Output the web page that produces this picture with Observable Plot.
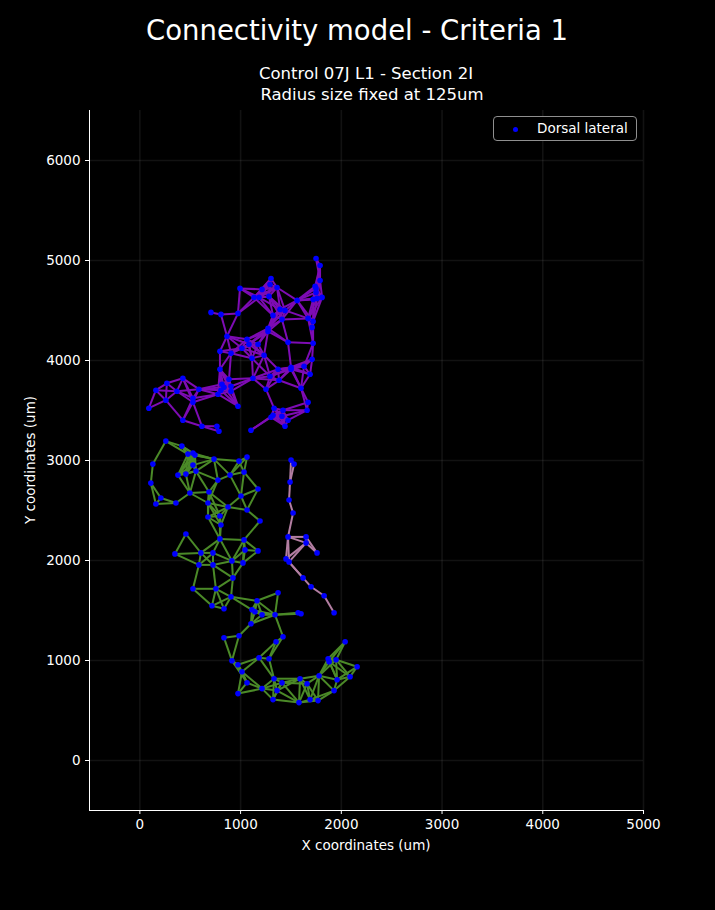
<!DOCTYPE html>
<html>
<head>
<meta charset="utf-8">
<script src="https://cdn.jsdelivr.net/npm/d3@7"></script>
<script src="https://cdn.jsdelivr.net/npm/@observablehq/plot@0.6"></script>
<style>
  body { margin: 0; background: #000; }
  #wrap { position: relative; width: 715px; height: 910px; background: #000; font-family: "DejaVu Sans", sans-serif; color: #fff; overflow: hidden; }
  .t { position: absolute; white-space: nowrap; line-height: 1; transform: translate(-50%, -50%); }
  #legend { position: absolute; left: 493px; top: 116px; width: 144px; height: 25px; border: 1px solid #8f8f8f; border-radius: 4px; box-sizing: border-box; background: #000; }
  #legend .dot { position: absolute; left: 19px; top: 10px; width: 5px; height: 5px; border-radius: 50%; background: #0000ff; }
  #legend .lab { position: absolute; left: 43px; top: 5px; font-size: 13.5px; line-height: 1; color: #fff; }
</style>
</head>
<body>
<div id="wrap">
  <div class="t" style="left:357px;top:31px;font-size:27.5px;">Connectivity model - Criteria 1</div>
  <div class="t" style="left:366px;top:74px;font-size:16.5px;">Control 07J L1 - Section 2I</div>
  <div class="t" style="left:372px;top:95px;font-size:16.5px;">Radius size fixed at 125um</div>
  <div class="t" style="left:366px;top:846px;font-size:13.5px;">X coordinates (um)</div>
  <div class="t" style="left:31px;top:460px;font-size:13.5px;transform:translate(-50%,-50%) rotate(-90deg);">Y coordinates (um)</div>
  <div id="legend"><div class="dot"></div><div class="lab">Dorsal lateral</div></div>
</div>
<script>
// ---- data (um) ----
const RADIUS = 125;
const xTicks = [0, 1000, 2000, 3000, 4000, 5000];
const yTicks = [0, 1000, 2000, 3000, 4000, 5000, 6000];

const purpleNodes = [
[706,4481],[805,4461],[974,4471],[865,4242],[994,4721],[1749,5020],[1789,4950],[1302,4820],[1213,4711],[1292,4760],
[1362,4730],[1789,4800],[1740,4741],[1749,4721],[1749,4681],[1809,4631],[1759,4621],[1720,4611],[1133,4631],[1183,4631],
[1282,4641],[1561,4601],[1392,4511],[1441,4501],[1322,4451],[1411,4411],[1670,4421],[1720,4391],[1710,4331],[1272,4321],
[1272,4291],[1064,4212],[1083,4162],[1173,4162],[1471,4182],[1720,4172],[795,4092],[905,4072],[1014,4122],[1113,4022],
[1233,4052],[1710,4012],[795,3912],[1372,3912],[1501,3932],[1501,3912],[1630,3942],[1690,3862],[1292,3842],[1123,3822],
[1382,3802],[1252,3713],[1600,3723],[427,3822],[268,3772],[159,3703],[368,3693],[586,3713],[258,3603],[89,3523],
[527,3623],[527,3583],[815,3762],[885,3812],[835,3733],[805,3703],[775,3663],[905,3743],[905,3693],[974,3543],
[427,3403],[616,3343],[765,3343],[785,3293],[1670,3583],[1660,3503],[1332,3523],[1421,3503],[1302,3433],[1322,3453],
[1411,3443],[1471,3403],[1441,3343],[1103,3303]
];

const greenNodes = [
[258,3194],[417,3144],[477,3064],[527,3074],[547,3054],[527,2954],[736,3014],[984,2994],[1064,3034],[129,2964],
[378,2854],[457,2864],[557,2894],[895,2854],[1034,2884],[775,2804],[109,2774],[497,2675],[686,2685],[1004,2645],
[209,2625],[159,2565],[358,2575],[676,2575],[875,2535],[1064,2505],[676,2435],[795,2445],[805,2355],[1173,2715],
[1193,2395],[457,2265],[348,2066],[795,2216],[1034,2206],[606,2076],[726,2076],[1044,2106],[1173,2096],[586,1956],
[726,1956],[914,1996],[1024,1976],[924,1826],[527,1717],[755,1717],[905,1637],[716,1547],[835,1517],[1372,1677],
[1163,1597],[1113,1507],[1143,1487],[1213,1457],[1342,1457],[1571,1477],[1600,1467],[1103,1367],[835,1228],[984,1248],
[1352,1188],[1421,1238],[914,998],[1183,1028],[1282,1018],[974,958],[1014,888],[1064,778],[974,669],[1213,719],
[1332,818],[1362,699],[1322,609],[2038,1188],[1869,1018],[1879,988],[1948,1008],[2157,938],[2087,838],[1779,848],
[1958,808],[1590,818],[1411,778],[1660,768],[1928,699],[1580,579],[1690,609],[1769,599]
];

const pinkNodes = [
[1501,3004],[1531,2964],[1491,2784],[1481,2605],[1521,2475],[1471,2236],[1650,2236],[1650,2176],[1759,2076],[1451,2016],
[1481,1986],[1620,1826],[1700,1737],[1829,1647],[1928,1477]
];

const clusters = [
  {nodes: purpleNodes, color: "#7e0cb4"},
  {nodes: greenNodes, color: "#4b8a28"},
  {nodes: pinkNodes, color: "#b37ea2"}
];

// connectivity: two cells are linked when their 125um-radius circles touch
const LINK = 2 * RADIUS + 18;
const links = [];
for (const c of clusters) {
  const n = c.nodes;
  for (let i = 0; i < n.length; i++)
    for (let j = i + 1; j < n.length; j++)
      if (Math.hypot(n[i][0] - n[j][0], n[i][1] - n[j][1]) <= LINK)
        links.push({x1: n[i][0], y1: n[i][1], x2: n[j][0], y2: n[j][1], color: c.color});
}
const allNodes = clusters.flatMap(c => c.nodes.map(([x, y]) => ({x, y})));

const chart = Plot.plot({
  width: 715,
  height: 910,
  marginTop: 110,
  marginBottom: 100,
  marginLeft: 89,
  marginRight: 72,
  x: {domain: [-500, 5000]},
  y: {domain: [-500, 6500]},
  style: {background: "#000", color: "#fff", fontFamily: "DejaVu Sans", overflow: "visible"},
  marks: [
    Plot.gridX(xTicks, {stroke: "#fff", strokeOpacity: 0.07, strokeWidth: 1.6}),
    Plot.gridY(yTicks, {stroke: "#fff", strokeOpacity: 0.07, strokeWidth: 1.6}),
    Plot.link(links, {x1: "x1", y1: "y1", x2: "x2", y2: "y2", stroke: "color", strokeWidth: 2}),
    Plot.dot(allNodes, {x: "x", y: "y", r: 2.8, fill: "#0000ff"}),
    Plot.axisX(xTicks, {tickSize: 4, tickPadding: 5, fontSize: 13.5, label: null, tickFormat: d => String(d), stroke: "#fff", fill: "#fff"}),
    Plot.axisY(yTicks, {tickSize: 4, tickPadding: 5, fontSize: 13.5, label: null, tickFormat: d => String(d), stroke: "#fff", fill: "#fff"}),
    Plot.ruleX([-500], {stroke: "#fff", strokeWidth: 1}),
    Plot.ruleY([-500], {stroke: "#fff", strokeWidth: 1})
  ]
});
chart.style.position = "absolute";
chart.style.left = "0px";
chart.style.top = "0px";
const wrap = document.getElementById("wrap");
wrap.insertBefore(chart, wrap.firstChild);
</script>
</body>
</html>
